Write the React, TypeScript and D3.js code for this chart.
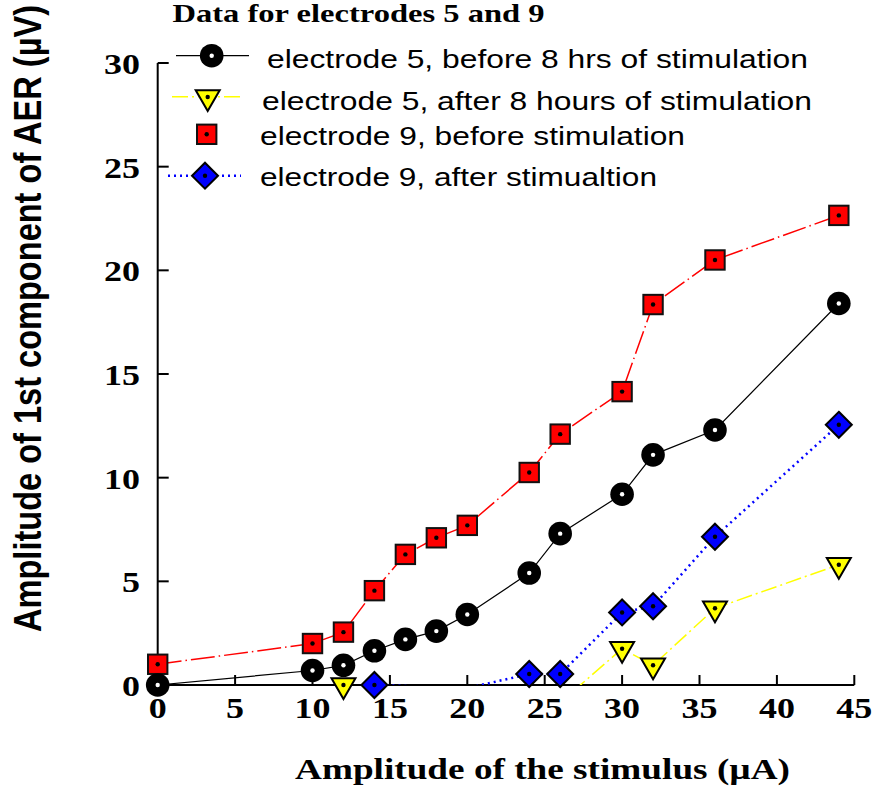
import React from "react";
import * as d3 from "d3";

const xTicks = [0, 5, 10, 15, 20, 25, 30, 35, 40, 45];
const yTicks = [0, 5, 10, 15, 20, 25, 30];

const e5BeforeX = [0, 10, 12, 14, 16, 18, 20, 24, 26, 30, 32, 36, 44];
const e5BeforeY = [0, 0.7, 0.95, 1.65, 2.2, 2.6, 3.4, 5.4, 7.3, 9.2, 11.1, 12.3, 18.4];

const e5AfterX = [12, 26, 30, 32, 36, 44];
const e5AfterY = [0, -0.85, 1.75, 0.95, 3.7, 5.8];

const e9BeforeX = [0, 10, 12, 14, 16, 18, 20, 24, 26, 30, 32, 36, 44];
const e9BeforeY = [1.0, 2.0, 2.55, 4.55, 6.3, 7.1, 7.7, 10.25, 12.1, 14.15, 18.35, 20.5, 22.65];

const e9AfterX = [14, 20, 24, 26, 30, 32, 36, 44];
const e9AfterY = [0, -0.15, 0.53, 0.53, 3.5, 3.8, 7.15, 12.55];

const legendLabels = [
  "electrode 5, before 8 hrs of stimulation",
  "electrode 5, after 8 hours of stimulation",
  "electrode 9, before stimulation",
  "electrode 9, after stimualtion",
];

const title = "Data for electrodes 5 and  9";
const xLabel = "Amplitude of the stimulus (\u00b5A)";
const yLabel = "Amplitude of 1st  component of AER (\u00b5V)";

type Pt = { x: number; y: number };
const zip = (xs: number[], ys: number[]): Pt[] => xs.map((x, i) => ({ x, y: ys[i] }));

const SERIF = "'Liberation Serif', 'Times New Roman', serif";
const SANS = "'Liberation Sans', Arial, sans-serif";

function Circle({ cx, cy }: { cx: number; cy: number }) {
  return (
    <g>
      <circle cx={cx} cy={cy} r={11.8} fill="#000" />
      <circle cx={cx} cy={cy} r={2.2} fill="#fff" />
    </g>
  );
}
function Tri({ cx, cy }: { cx: number; cy: number }) {
  const w = 12;
  const top = cy - 6.8;
  const bot = cy + 14;
  return (
    <g>
      <path d={`M${cx - w},${top}L${cx + w},${top}L${cx},${bot}Z`} fill="#ffff00" stroke="#000" strokeWidth={2} strokeLinejoin="miter" />
      <circle cx={cx} cy={cy} r={2.2} fill="#000" />
    </g>
  );
}
function Sq({ cx, cy }: { cx: number; cy: number }) {
  const s = 9.7;
  return (
    <g>
      <rect x={cx - s} y={cy - s} width={2 * s} height={2 * s} fill="#ff0000" stroke="#111" strokeWidth={2} />
      <circle cx={cx} cy={cy} r={2.2} fill="#000" />
    </g>
  );
}
function Dia({ cx, cy }: { cx: number; cy: number }) {
  const s = 13;
  return (
    <g>
      <path d={`M${cx},${cy - s}L${cx + s},${cy}L${cx},${cy + s}L${cx - s},${cy}Z`} fill="#0000ff" stroke="#000" strokeWidth={2} />
      <circle cx={cx} cy={cy} r={2.2} fill="#000" />
    </g>
  );
}

export default function App() {
  const x = d3.scaleLinear().domain([0, 45]).range([157.7, 854.3]);
  const y = d3.scaleLinear().domain([0, 30]).range([685, 63]);
  const line = d3
    .line<Pt>()
    .x((d) => x(d.x))
    .y((d) => y(d.y));

  const s5b = zip(e5BeforeX, e5BeforeY);
  const s5a = zip(e5AfterX, e5AfterY);
  const s9b = zip(e9BeforeX, e9BeforeY);
  const s9a = zip(e9AfterX, e9AfterY);
  const vis = (p: Pt) => p.y >= 0;

  const sx = 1.2;

  return (
    <svg width={876} height={797} style={{ position: "absolute", left: 0, top: 0, background: "#fff" }}>
      <defs>
        <clipPath id="plot">
          <rect x={x(0)} y={y(30)} width={x(45) - x(0)} height={y(0) - y(30)} />
        </clipPath>
      </defs>

      {/* title */}
      <text x={172.5} y={21.5} fontFamily={SERIF} fontWeight="bold" fontSize={25.5} textLength={372} lengthAdjust="spacingAndGlyphs">
        {title}
      </text>

      {/* axes */}
      <line x1={x(0)} x2={x(45)} y1={y(0)} y2={y(0)} stroke="#000" strokeWidth={2} />
      <line x1={x(0)} x2={x(0)} y1={y(0)} y2={y(30)} stroke="#000" strokeWidth={2} />
      {xTicks.map((t) => (
        <g key={"xt" + t}>
          <line x1={x(t)} x2={x(t)} y1={y(0)} y2={y(0) - 10} stroke="#000" strokeWidth={2} />
          <text transform={`translate(${x(t)},${718}) scale(${sx},1)`} textAnchor="middle" fontFamily={SERIF} fontWeight="bold" fontSize={30}>
            {t}
          </text>
        </g>
      ))}
      {yTicks.map((t) => (
        <g key={"yt" + t}>
          <line x1={x(0)} x2={x(0) + 11} y1={y(t)} y2={y(t)} stroke="#000" strokeWidth={2} />
          <text transform={`translate(${140},${y(t) + 11}) scale(${sx},1)`} textAnchor="end" fontFamily={SERIF} fontWeight="bold" fontSize={30}>
            {t}
          </text>
        </g>
      ))}

      {/* axis labels */}
      <text x={295} y={779} fontFamily={SERIF} fontWeight="bold" fontSize={29} textLength={495} lengthAdjust="spacingAndGlyphs">
        {xLabel}
      </text>
      <text
        transform={`translate(41,318.5) scale(${1.27},1) rotate(-90)`}
        textAnchor="middle"
        fontFamily={SANS}
        fontWeight="bold"
        fontSize={30}
        textLength={627}
        lengthAdjust="spacingAndGlyphs"
      >
        {yLabel}
      </text>

      {/* lines */}
      <g clipPath="url(#plot)" fill="none">
        <path d={line(s9b) || ""} stroke="#ff0000" strokeWidth={1.5} strokeDasharray="24 4 1.5 4" />
        <path d={line(s5b) || ""} stroke="#000" strokeWidth={1.2} />
        <path d={line(s5a) || ""} stroke="#ffff00" strokeWidth={1.5} strokeDasharray="16 4 2 4" />
        <path d={line(s9a) || ""} stroke="#0000ff" strokeWidth={2.5} strokeDasharray="2 4" />
      </g>

      {/* markers */}
      {s9b.filter(vis).map((p, i) => (
        <Sq key={"sq" + i} cx={x(p.x)} cy={y(p.y)} />
      ))}
      {s5b.filter(vis).map((p, i) => (
        <Circle key={"c" + i} cx={x(p.x)} cy={y(p.y)} />
      ))}
      {s5a.filter(vis).map((p, i) => (
        <Tri key={"t" + i} cx={x(p.x)} cy={y(p.y)} />
      ))}
      {s9a.filter(vis).map((p, i) => (
        <Dia key={"d" + i} cx={x(p.x)} cy={y(p.y)} />
      ))}

      {/* legend */}
      <line x1={176} x2={249} y1={55.7} y2={55.7} stroke="#000" strokeWidth={1.2} />
      <Circle cx={211.7} cy={55.7} />
      <line x1={172} x2={244} y1={96.7} y2={96.7} stroke="#ffff00" strokeWidth={1.5} strokeDasharray="16 4 2 4" />
      <Tri cx={207.7} cy={97} />
      <Sq cx={206.7} cy={134.3} />
      <line x1={168} x2={241} y1={175.7} y2={175.7} stroke="#0000ff" strokeWidth={2.5} strokeDasharray="2 4" />
      <Dia cx={205} cy={175.7} />

      {[
        { tx: 267, ty: 68, len: 541 },
        { tx: 262, ty: 110, len: 550 },
        { tx: 260, ty: 145, len: 425 },
        { tx: 260, ty: 186, len: 397 },
      ].map((r, i) => (
        <text key={"lg" + i} x={r.tx} y={r.ty} fontFamily={SANS} fontSize={25} textLength={r.len} lengthAdjust="spacingAndGlyphs">
          {legendLabels[i]}
        </text>
      ))}
    </svg>
  );
}
